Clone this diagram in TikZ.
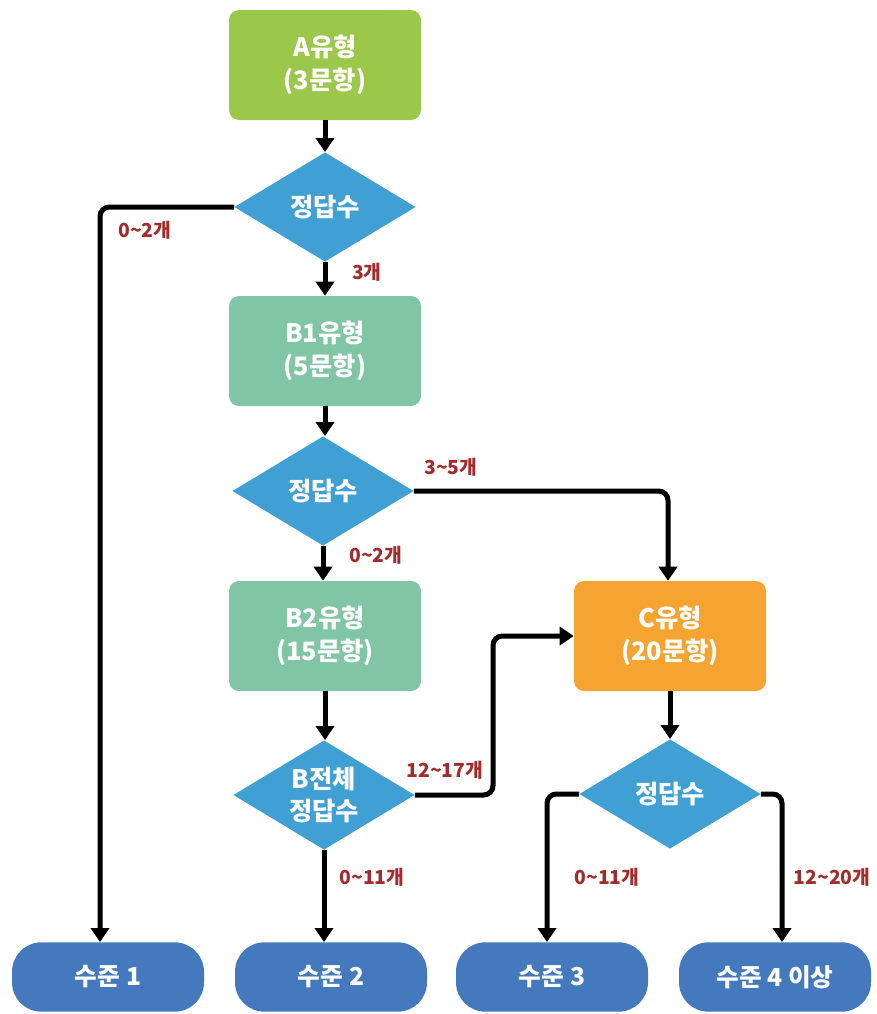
\documentclass[tikz,border=0pt]{standalone}
\usepackage{fontspec}
\setmainfont{Noto Sans CJK KR}
\usetikzlibrary{shapes.geometric,arrows.meta}
\definecolor{cA}{RGB}{155,200,74}
\definecolor{cB}{RGB}{128,198,164}
\definecolor{cC}{RGB}{245,164,49}
\definecolor{cD}{RGB}{64,160,212}
\definecolor{cL}{RGB}{68,121,190}
\definecolor{cLab}{RGB}{165,42,42}
\begin{document}
\begin{tikzpicture}[x=0.75pt,y=-0.75pt,
 box/.style={rectangle,rounded corners=7.5pt,minimum width=144pt,minimum height=82.5pt,text=white,font=\fontsize{19}{24.5}\selectfont\bfseries,align=center,inner sep=0pt},
 dec/.style={diamond,aspect=1.65,fill=cD,minimum width=136pt,minimum height=82pt,inner sep=0pt,text=white,align=center,font=\fontsize{19}{24.5}\selectfont\bfseries},
 lvl/.style={rectangle,rounded corners=22pt,fill=cL,minimum width=144pt,minimum height=52pt,inner sep=0pt,text=white,font=\fontsize{18.5}{22}\selectfont\bfseries},
 arr/.style={line width=3.75pt,-{Triangle[width=13.5pt,length=10.5pt]},rounded corners=7pt},
 lab/.style={text=cLab,font=\fontsize{14.5}{16}\selectfont\bfseries,inner sep=0pt}]
\useasboundingbox (0,0) rectangle (877,1014);
\node[box,fill=cA] (a) at (325,65) {A유형\\(3문항)};
\node[dec] (d1) at (325,207) {정답수};
\node[box,fill=cB] (b1) at (325,351) {B1유형\\(5문항)};
\node[dec] (d2) at (323,491) {정답수};
\node[box,fill=cB] (b2) at (325,636) {B2유형\\(15문항)};
\node[dec] (d3) at (324,795) {B전체\\정답수};
\node[box,fill=cC] (c) at (670,636) {C유형\\(20문항)};
\node[dec] (d4) at (670,794) {정답수};
\node[lvl] (l1) at (108,977) {수준 1};
\node[lvl] (l2) at (331,977) {수준 2};
\node[lvl] (l3) at (552,977) {수준 3};
\node[lvl] (l4) at (775,977) {수준 4 이상};
\coordinate (j3) at (493,795);
\draw[arr] (a.south) -- (a.south |- d1.north);
\draw[arr] (d1.west) -| ([xshift=-6pt]l1.north);
\draw[arr] (d1.south) -- (d1.south |- b1.north);
\draw[arr] (b1.south) -- (b1.south |- d2.north);
\draw[arr] (d2.east) -| ([xshift=-1.5pt]c.north);
\draw[arr] (d2.south) -- (d2.south |- b2.north);
\draw[arr] (b2.south) -- (b2.south |- d3.north);
\draw[arr] (d3.east) -- (j3) |- (c.west);
\draw[arr] (d3.south) -- (d3.south |- l2.north);
\draw[arr] (c.south) -- (c.south |- d4.north);
\draw[arr] (d4.west) -| ([xshift=-3.75pt]l3.north);
\draw[arr] (d4.east) -| ([xshift=5.25pt]l4.north);
\node[lab] (t1) at (145,230) {0\textasciitilde2개};
\node[lab] (t2) at (367,272) {3개};
\node[lab] (t3) at (451,467) {3\textasciitilde5개};
\node[lab] (t4) at (376,555) {0\textasciitilde2개};
\node[lab] (t5) at (445,770) {12\textasciitilde17개};
\node[lab] (t6) at (372,877) {0\textasciitilde11개};
\node[lab] (t7) at (607,877) {0\textasciitilde11개};
\node[lab] (t8) at (832,877) {12\textasciitilde20개};
\end{tikzpicture}
\end{document}
